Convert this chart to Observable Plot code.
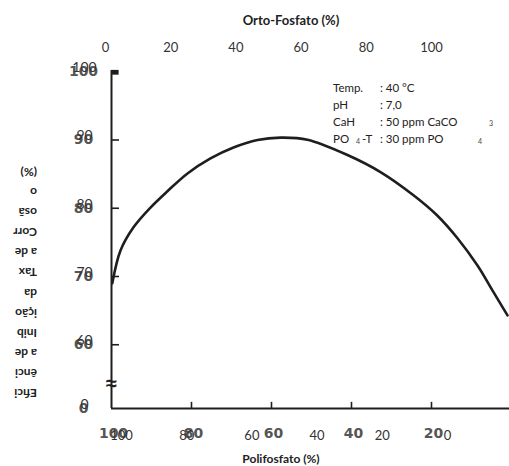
<!DOCTYPE html>
<html><head><meta charset="utf-8">
<script src="https://cdn.jsdelivr.net/npm/d3@7"></script>
<script src="https://cdn.jsdelivr.net/npm/@observablehq/plot@0.6"></script>
<style>
body{margin:0;background:#fff;}
#wrap{position:relative;width:509px;height:466px;overflow:hidden;font-family:Lato,"Open Sans",sans-serif;color:#222;}
#wrap svg{position:absolute;left:0;top:0;}
.t{position:absolute;white-space:nowrap;line-height:1;}
#ylab{position:absolute;left:-23px;top:162px;width:60px;text-align:left;font:bold 12px Lato,sans-serif;line-height:20.1px;transform:rotate(180deg);color:#222;}
</style></head><body><div id="wrap"></div>
<script>
// curve: Polifosfato (%) vs efficiency (%)
const poly = [99.8, 97.75, 94.5, 90.25, 86, 81, 75.25, 69.5, 63.5, 57.75, 51, 41, 32.75, 24.5, 18.5, 13.5, 8.5, 4.5, 1];
const eff  = [69.0, 73.8, 77.2, 80.1, 82.5, 85.1, 87.3, 88.9, 90.0, 90.35, 90.05, 87.8, 85.3, 81.9, 78.9, 75.6, 71.6, 67.7, 64.3];
const yTickValues = [100, 90, 80, 70, 60, 0];
const yInnerTicks = [90, 80, 70, 60];
const xTickValues = [100, 80, 60, 40, 20, 0];
const xInnerTicks = [80, 60, 40, 20];
const orthoTicks = [0, 20, 40, 60, 80, 100];
const polyTypedTicks = [100, 80, 60, 40, 20, 0];
const yTitleLines = ["Efici", "ênci", "a de", "Inib", "ição", "da", "Tax", "a de", "Corr", "osã", "o", "(%)"];
const notes = [["Temp.", ": 40 °C"], ["pH", ": 7,0"], ["CaH", ": 50 ppm CaCO"], ["PO\u2009", ": 30 ppm PO"]];

const Y_ZERO = 50.66; // broken-axis position of the 0 label
const BREAK = 54.3;
const toY = v => v === 0 ? Y_ZERO : v;
const data = poly.map((p, i) => ({p, e: eff[i]}));
const wrap = document.getElementById("wrap");
const ink = "#1e1e1e";
const scanFont = "DejaVu Sans";

const mainPlot = Plot.plot({
  width: 509, height: 466,
  marginLeft: 0, marginRight: 0, marginTop: 0, marginBottom: 0,
  style: {background: "transparent", overflow: "visible"},
  x: {domain: [100, 0], range: [111, 511], axis: null},
  y: {domain: [60, 100], range: [344.25, 71.25], axis: null},
  marks: [
    Plot.ruleX([100], {y1: Y_ZERO, y2: 100.2, stroke: ink, strokeWidth: 2}),
    Plot.ruleY([Y_ZERO], {x1: 100, x2: 0, stroke: ink, strokeWidth: 2}),
    Plot.ruleY(yInnerTicks, {x1: 100, x2: 98, stroke: ink, strokeWidth: 1.6}),
    Plot.ruleX(xInnerTicks, {y1: Y_ZERO, y2: Y_ZERO + 0.9, stroke: ink, strokeWidth: 1.6}),
    Plot.rect([0], {x1: 100, x2: 98.1, y1: 99.5, y2: 100.2, fill: ink}),
    Plot.text([BREAK], {x: 100, y: d => d, text: () => "≈", fontSize: 20, fill: ink, fontWeight: "bold"}),
    Plot.line(data, {x: "p", y: "e", curve: "catmull-rom", stroke: ink, strokeWidth: 2.6}),
    // scanned y labels
    Plot.text(yTickValues, {x: 100, y: toY, text: d => String(d), dx: -28, fontSize: 14, fontWeight: "bold", fontFamily: scanFont, fill: "#555"}),
    // typed y labels
    Plot.text(yTickValues, {x: 100, y: toY, text: d => String(d), dx: -27, dy: -4, fontSize: 14, fontFamily: "Lato", fill: "#333"}),
    // scanned x labels
    Plot.text(xTickValues, {x: d => d, y: Y_ZERO, text: d => String(d), dy: 25, dx: 2, fontSize: 14, fontWeight: "bold", fontFamily: scanFont, fill: "#555"})
  ]
});
wrap.appendChild(mainPlot);

const topPlot = Plot.plot({
  width: 509, height: 466, margin: 0,
  style: {background: "transparent", overflow: "visible"},
  x: {domain: [0, 100], range: [105, 431], axis: null},
  marks: [
    Plot.text(orthoTicks, {x: d => d, frameAnchor: "top", dy: 47, lineAnchor: "middle", text: d => String(d), fontSize: 13, fontFamily: "Lato", fill: "#333"})
  ]
});
wrap.appendChild(topPlot);

const botPlot = Plot.plot({
  width: 509, height: 466, margin: 0,
  style: {background: "transparent", overflow: "visible"},
  x: {domain: [100, 0], range: [121, 447], axis: null},
  marks: [
    Plot.text(polyTypedTicks, {x: d => d, frameAnchor: "top", dy: 435, lineAnchor: "middle", text: d => String(d), fontSize: 13, fontFamily: "Lato", fill: "#333"})
  ]
});
wrap.appendChild(botPlot);

function addText(txt, css) {
  const d = document.createElement("div");
  d.className = "t"; d.textContent = txt;
  Object.assign(d.style, css);
  wrap.appendChild(d);
  return d;
}
addText("Orto-Fosfato (%)", {left: "291px", top: "12px", transform: "translateX(-50%)", font: "bold 13px Lato", color: "#222"});
addText("Polifosfato (%)", {left: "281px", top: "451px", transform: "translateX(-50%)", font: "bold 12px Lato", color: "#222"});

const yl = document.createElement("div");
yl.id = "ylab";
yl.innerHTML = yTitleLines.map(s => `<div>${s}</div>`).join("");
wrap.appendChild(yl);

notes.forEach((n, i) => {
  const y = 81 + i * 17;
  addText(n[0], {left: "333px", top: y + "px", font: "11.5px Lato", color: "#222"});
  addText(n[1], {left: "380px", top: y + "px", font: "11.5px Lato", color: "#222"});
});
addText("4", {left: "356px", top: "137px", font: "7px Lato", color: "#444"});
addText("-T", {left: "362px", top: "132px", font: "11.5px Lato", color: "#222"});
addText("3", {left: "489px", top: "119px", font: "7px Lato", color: "#444"});
addText("4", {left: "478px", top: "137px", font: "7px Lato", color: "#444"});
</script>
</body></html>
